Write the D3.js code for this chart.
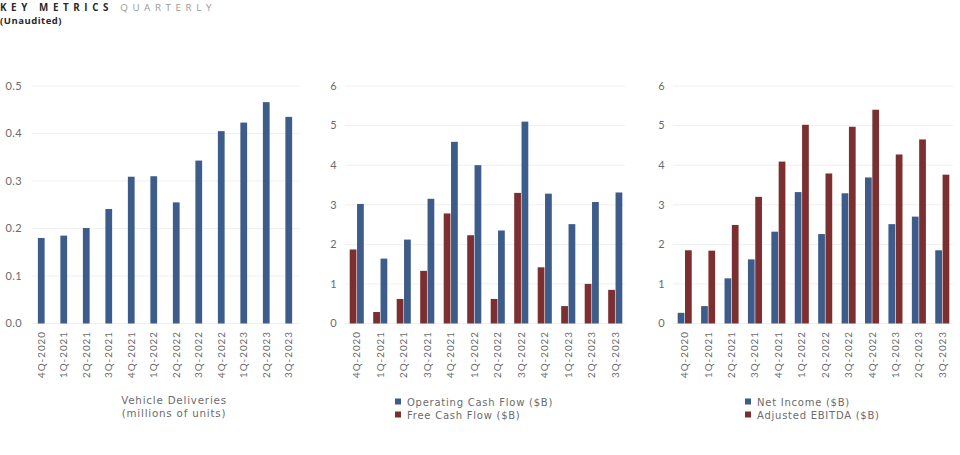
<!DOCTYPE html>
<html><head><meta charset="utf-8">
<script src="https://cdn.jsdelivr.net/npm/d3@7/dist/d3.min.js"></script>
<style>
html,body{margin:0;padding:0;background:#fff;}
svg{display:block;font-family:Lato, "Open Sans", sans-serif;}
.os{font-family:"Open Sans", sans-serif;}
.dv{font-family:"DejaVu Sans", sans-serif;}
</style></head>
<body><svg id="c" width="960" height="455"></svg>
<script>
const quarters = ["4Q-2020","1Q-2021","2Q-2021","3Q-2021","4Q-2021","1Q-2022","2Q-2022","3Q-2022","4Q-2022","1Q-2023","2Q-2023","3Q-2023"];
const deliveries = [0.180,0.185,0.201,0.241,0.309,0.310,0.255,0.343,0.405,0.423,0.466,0.435];
const operatingCashFlow = [3.02,1.64,2.12,3.15,4.59,4.00,2.35,5.10,3.28,2.51,3.07,3.31];
const freeCashFlow = [1.87,0.29,0.62,1.33,2.78,2.23,0.62,3.30,1.42,0.44,1.00,0.85];
const netIncome = [0.27,0.44,1.14,1.62,2.32,3.32,2.26,3.29,3.69,2.51,2.70,1.85];
const adjustedEbitda = [1.85,1.84,2.49,3.20,4.09,5.02,3.79,4.97,5.40,4.27,4.65,3.76];
const ticksDeliveries = [0,0.1,0.2,0.3,0.4,0.5];
const ticksBillions = [0,1,2,3,4,5,6];

const BLUE = "#3d5c89", RED = "#7c2f30", GRID = "#efefef", TXT = "#6b6b6b";
const svg = d3.select("#c");

// Title
const t = svg.append("text").attr("class","os").attr("x",0).attr("y",11).attr("font-size",9.8).attr("letter-spacing","4.6px");
t.append("tspan").attr("font-weight",700).attr("fill","#2a2a2a").text("KEY METRICS ");
t.append("tspan").attr("fill","#9a9a9a").text("QUARTERLY");
svg.append("text").attr("class","os").attr("x",0).attr("y",24).attr("font-size",9.5).attr("font-weight",700).attr("letter-spacing","0.5px").attr("fill","#2a2a2a").text("(Unaudited)");

function panel(cfg){
  const g = svg.append("g");
  const x = d3.scaleBand().domain(quarters).range(cfg.xr).paddingInner(cfg.pi).paddingOuter(cfg.pi/2);
  const y = d3.scaleLinear().domain([0, cfg.max]).range([323.5, 86]);
  g.selectAll("line.grid").data(cfg.ticks).join("line")
    .attr("x1",cfg.gx[0]).attr("x2",cfg.gx[1])
    .attr("y1",d=>y(d)).attr("y2",d=>y(d))
    .attr("stroke",GRID).attr("stroke-width",1);
  g.selectAll("text.yl").data(cfg.ticks).join("text")
    .attr("x",cfg.labelX).attr("y",d=>y(d)).attr("dy","0.35em")
    .attr("text-anchor","end").attr("font-size",11).attr("letter-spacing","0.4px").attr("fill",TXT)
    .text(d=>cfg.fmt(d));
  const sub = d3.scaleBand().domain(cfg.series.map((s,i)=>i)).range([0,x.bandwidth()]).paddingInner(cfg.series.length>1?0.08:0);
  cfg.series.forEach((s,i)=>{
    g.selectAll("rect.s"+i).data(quarters).join("rect")
      .attr("x",d=>x(d)+sub(i)).attr("width",sub.bandwidth())
      .attr("y",(d,k)=>y(s.values[k])).attr("height",(d,k)=>y(0)-y(s.values[k]))
      .attr("fill",s.color);
  });
  g.selectAll("text.xl").data(quarters).join("text")
    .attr("transform",d=>`translate(${x(d)+x.bandwidth()/2+3.5},331) rotate(-90)`)
    .attr("text-anchor","end").attr("font-size",9.8).attr("letter-spacing","1px")
    .attr("fill",TXT).text(d=>d);
  return g;
}

panel({xr:[30,300], pi:0.7, gx:[32,300], max:0.5, ticks:ticksDeliveries, labelX:22, fmt:d3.format(".1f"),
  series:[{values:deliveries,color:BLUE}]});
panel({xr:[345,627], pi:0.4, gx:[345,625], max:6, ticks:ticksBillions, labelX:337, fmt:d3.format("d"),
  series:[{values:freeCashFlow,color:RED},{values:operatingCashFlow,color:BLUE}]});
panel({xr:[673,954], pi:0.4, gx:[673,953], max:6, ticks:ticksBillions, labelX:665, fmt:d3.format("d"),
  series:[{values:netIncome,color:BLUE},{values:adjustedEbitda,color:RED}]});

svg.append("text").attr("class","dv").attr("x",174).attr("y",404).attr("text-anchor","middle").attr("font-size",10.3).attr("letter-spacing","0.8px").attr("fill",TXT).text("Vehicle Deliveries");
svg.append("text").attr("class","dv").attr("x",174).attr("y",417).attr("text-anchor","middle").attr("font-size",10.3).attr("letter-spacing","0.8px").attr("fill",TXT).text("(millions of units)");

function legend(x0, items){
  items.forEach((it,i)=>{
    const yy = 402 + i*13;
    svg.append("rect").attr("x",x0).attr("y",yy-3.5).attr("width",6).attr("height",6).attr("fill",it.color);
    svg.append("text").attr("class","dv").attr("x",x0+12).attr("y",yy).attr("dy","0.35em").attr("font-size",10).attr("letter-spacing","0.75px").attr("fill",TXT).text(it.label);
  });
}
legend(395,[{label:"Operating Cash Flow ($B)",color:BLUE},{label:"Free Cash Flow ($B)",color:RED}]);
legend(745,[{label:"Net Income ($B)",color:BLUE},{label:"Adjusted EBITDA ($B)",color:RED}]);
</script></body></html>
